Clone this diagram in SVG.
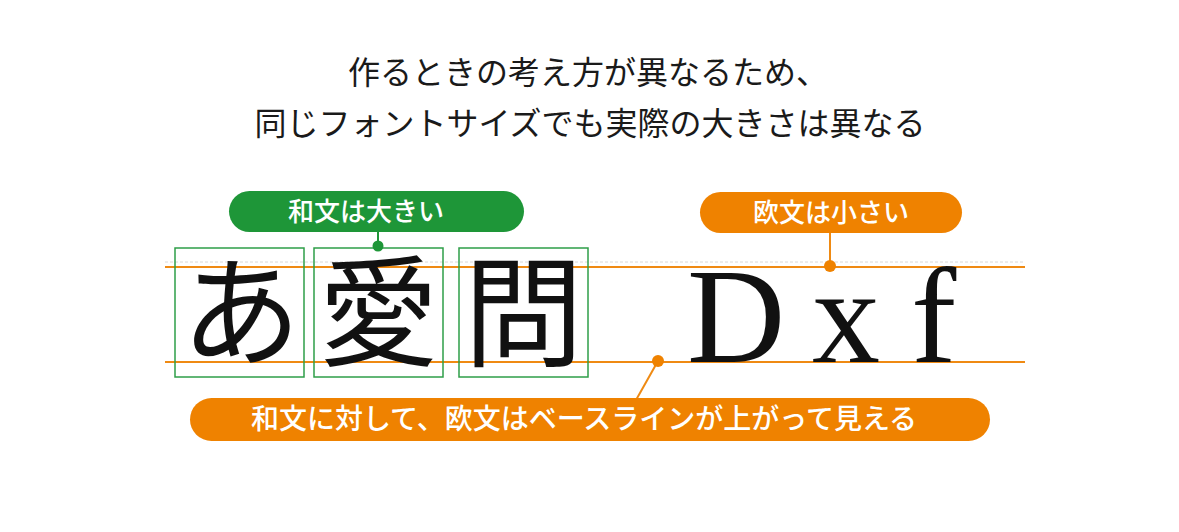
<svg xmlns="http://www.w3.org/2000/svg" width="1179" height="532" viewBox="0 0 1179 532">
<defs>
<style>
.title{font-family:"Noto Sans CJK JP",sans-serif;font-size:32px;font-weight:400;fill:#1a1a1a;text-anchor:middle}
.lbl{font-family:"Noto Sans CJK JP",sans-serif;font-size:26px;font-weight:500;fill:#fff;text-anchor:middle}
.jp{font-family:"Noto Sans CJK JP",sans-serif;font-size:120px;font-weight:400;fill:#111;text-anchor:middle}
.lat{font-family:"Liberation Serif",serif;font-size:136px;fill:#111}
.box{fill:none;stroke:#2e9e48;stroke-width:1.5}
.oline{stroke:#ef8a13;stroke-width:2;fill:none}
.gline{stroke:#1e9638;stroke-width:2;fill:none}
</style>
</defs>
<rect width="1179" height="532" fill="#fff"/>
<g id="title">
<text class="title" x="588" y="84">作るときの考え方が異なるため、</text>
<text class="title" x="590" y="135">同じフォントサイズでも実際の大きさは異なる</text>
</g>
<g id="guides">
<line x1="165" y1="262" x2="1025" y2="262" stroke="#d8d8d8" stroke-width="1" stroke-dasharray="3 2"/>
<line class="oline" x1="165" y1="267" x2="1025" y2="267"/>
<line class="oline" x1="165" y1="362" x2="1025" y2="362"/>
</g>
<g id="wabun">
<rect class="box" x="175" y="248" width="129" height="129"/>
<rect class="box" x="314" y="248" width="129" height="129"/>
<rect class="box" x="459" y="248" width="129" height="129"/>
<text class="jp" x="241" y="357">あ</text>
<text class="jp" x="378.5" y="357">愛</text>
<text class="jp" x="523.5" y="357">問</text>
</g>
<g id="obun">
<text class="lat" x="687" y="362">D</text>
<text class="lat" x="812" y="362">x</text>
<text class="lat" x="911" y="362">f</text>
</g>
<g id="connectors">
<line class="gline" x1="378" y1="232" x2="378" y2="246"/>
<circle cx="378" cy="246" r="5.5" fill="#1e9638"/>
<line class="oline" x1="830" y1="233" x2="830" y2="266"/>
<circle cx="830" cy="266" r="6" fill="#ef8200"/>
<line class="oline" x1="658" y1="361" x2="636" y2="400"/>
<circle cx="658" cy="361" r="6" fill="#ef8200"/>
</g>
<g id="label-wabun">
<rect x="229" y="191" width="295" height="41" rx="20.5" fill="#1e9638"/>
<text class="lbl" x="366" y="221">和文は大きい</text>
</g>
<g id="label-obun">
<rect x="700" y="192" width="262" height="41" rx="20.5" fill="#ef8200"/>
<text class="lbl" x="831" y="222">欧文は小さい</text>
</g>
<g id="label-baseline">
<rect x="190" y="398" width="800" height="43" rx="21.5" fill="#ef8200"/>
<text class="lbl" x="584" y="429" style="font-size:28px">和文に対して、欧文はベースラインが上がって見える</text>
</g>
</svg>
